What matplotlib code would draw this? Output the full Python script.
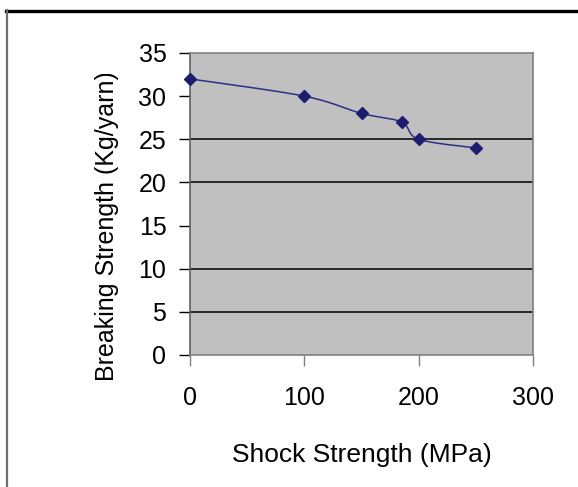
import numpy as np
import matplotlib
matplotlib.use("Agg")
import matplotlib.pyplot as plt
from matplotlib.lines import Line2D
from matplotlib.patches import Rectangle

plt.rcParams['font.family'] = ['Liberation Sans', 'DejaVu Sans']

# Data
shock_strength = [0, 100, 150, 185, 200, 250]
breaking_strength = [32, 30, 28, 27, 25, 24]
x_ticks = [0, 100, 200, 300]
y_ticks = [0, 5, 10, 15, 20, 25, 30, 35]
visible_gridlines = [5, 10, 20, 25]
x_label = "Shock Strength (MPa)"
y_label = "Breaking Strength (Kg/yarn)"


def smooth_curve(xs, ys, n=30):
    """Catmull-Rom style Bezier smoothing (like Excel's smoothed line)."""
    xs = np.asarray(xs, float)
    ys = np.asarray(ys, float)
    P = np.column_stack([xs, ys])
    out = []
    for i in range(len(P) - 1):
        p0 = P[i - 1] if i > 0 else P[i]
        p1 = P[i]
        p2 = P[i + 1]
        p3 = P[i + 2] if i + 2 < len(P) else P[i + 1]
        c1 = p1 + (p2 - p0) / 6.0
        c2 = p2 - (p3 - p1) / 6.0
        t = np.linspace(0, 1, n)[:, None]
        seg = ((1 - t) ** 3) * p1 + 3 * ((1 - t) ** 2) * t * c1 + 3 * (1 - t) * t ** 2 * c2 + t ** 3 * p2
        out.append(seg if i == 0 else seg[1:])
    seg = np.vstack(out)
    return seg[:, 0], seg[:, 1]


W, H = 578, 487
fig = plt.figure(figsize=(W / 100, H / 100), dpi=100)
fig.patch.set_facecolor('white')

L, R, T, B = 190, 533, 53, 355
ax = fig.add_axes([L / W, 1 - B / H, (R - L) / W, (B - T) / H])
ax.set_facecolor('#c0c0c0')

for yv in visible_gridlines:
    ax.axhline(yv, color='black', lw=1.1, zorder=1)

sx, sy = smooth_curve(shock_strength, breaking_strength)
ax.plot(sx, sy, color='#2e2e8a', lw=1.1, zorder=3, clip_on=False)
ax.plot(shock_strength, breaking_strength, linestyle='none', marker='D',
        markersize=6, color='#1c1c70', zorder=4, clip_on=False)

ax.set_xlim(0, 300)
ax.set_ylim(0, 35)
ax.set_xticks(x_ticks)
ax.set_yticks(y_ticks)

for s in ['top', 'right', 'bottom']:
    ax.spines[s].set_color('#808080')
    ax.spines[s].set_linewidth(1.2)
ax.spines['left'].set_color('#606060')
ax.spines['left'].set_linewidth(1.2)

ax.tick_params(axis='y', direction='out', length=8, width=1, color='black',
               labelsize=18, pad=9)
ax.tick_params(axis='x', direction='out', length=8, width=1, color='#808080',
               labelsize=18, pad=14)

ax.set_xlabel(x_label, fontsize=19, labelpad=24)
ylab = fig.text(107 / W, 1 - 381 / H, y_label, rotation=90,
                ha='center', va='bottom', fontsize=18)
clip = Rectangle((0, 0), 1, 1 - 74 / H, transform=fig.transFigure)
ylab.set_clip_path(clip)

# outer chart border
fig.add_artist(Line2D([6 / W, 1.0], [1 - 11 / H, 1 - 11 / H], transform=fig.transFigure,
                      color='black', lw=2.4))
fig.add_artist(Line2D([7 / W, 7 / W], [1 - 10 / H, 0.0], transform=fig.transFigure,
                      color='#707070', lw=1.6))

fig.savefig('out.png', dpi=100)
